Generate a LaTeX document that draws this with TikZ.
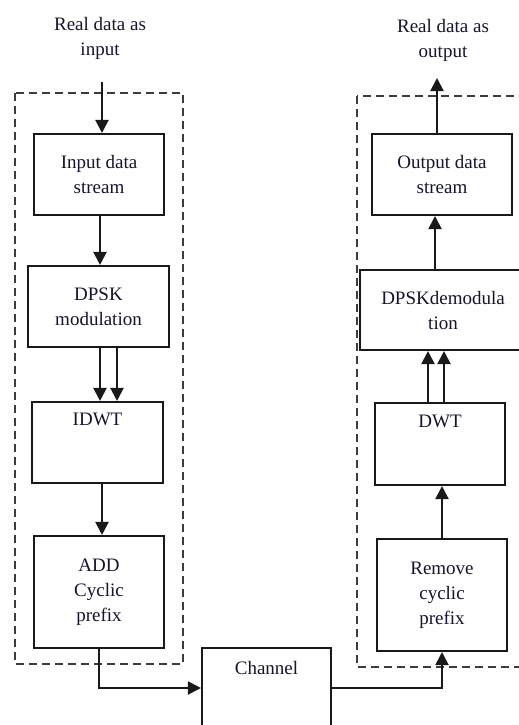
\documentclass[tikz,border=0pt]{standalone}
\usepackage{fontspec}
\setmainfont{Liberation Serif}
\usetikzlibrary{arrows.meta}
\definecolor{txtc}{RGB}{20,20,50}
\definecolor{linec}{RGB}{25,25,25}
\begin{document}
\begin{tikzpicture}[x=1pt,y=-1pt,
  blk/.style={draw=linec,line width=2.1pt,rectangle,inner sep=0pt,align=center,
    font=\fontsize{19}{25}\selectfont,text=txtc},
  lbl/.style={align=center,font=\fontsize{19}{25}\selectfont,text=txtc,inner sep=0pt},
  arr/.style={draw=linec,line width=2.1pt,-{Triangle[length=13pt,width=13pt]}},
  dsh/.style={draw=linec!85,line width=1.8pt,dash pattern=on 8pt off 5pt}]
\useasboundingbox (0,0) rectangle (519,725);
\clip (0,0) rectangle (519,725);
% dashed groups
\draw[dsh] (15,93) rectangle (183,664);
\draw[dsh] (357,96) rectangle (560,667);
% labels
\node[lbl] (inlbl) at (100,38) {Real data as\\input};
\node[lbl] (outlbl) at (443,40) {Real data as\\output};
% transmitter
\node[blk,minimum width=130pt,minimum height=81pt] (inbox) at (99,174.5) {Input data\\stream};
\node[blk,minimum width=141pt,minimum height=81pt] (dpsk) at (98.5,306.5) {DPSK\\modulation};
\node[blk,minimum width=131pt,minimum height=81pt] (idwt) at (97.5,442.5) {};
\node[lbl,anchor=north] (idwtt) at ([yshift=-12pt]idwt.north) {IDWT};
\node[blk,minimum width=130pt,minimum height=112pt] (add) at (99,592) {ADD\\Cyclic\\prefix};
% channel
\node[blk,minimum width=129pt,minimum height=104pt] (chan) at (266.5,700) {};
\node[lbl,anchor=north] (chant) at ([yshift=-14pt]chan.north) {Channel};
% receiver
\node[blk,minimum width=130pt,minimum height=112pt] (remove) at (442,595) {Remove\\cyclic\\prefix};
\node[blk,minimum width=130pt,minimum height=82pt] (dwt) at (440,444) {};
\node[lbl,anchor=north] (dwtt) at ([yshift=-13pt]dwt.north) {DWT};
\node[blk,minimum width=166pt,minimum height=80pt] (demod) at (443,310) {DPSKdemodula\\tion};
\node[blk,minimum width=140pt,minimum height=81pt] (outbox) at (442,174.5) {Output data\\stream};
% connectors
\coordinate (inTop) at (102,82);
\draw[arr] (inTop) -- (inTop |- inbox.north);
\draw[arr] ([xshift=1pt]inbox.south) -- ([xshift=1.5pt]dpsk.north);
\draw[arr] ([xshift=1.5pt]dpsk.south) -- ([xshift=2.5pt]idwt.north);
\draw[arr] ([xshift=18.5pt]dpsk.south) -- ([xshift=19.5pt]idwt.north);
\draw[arr] ([xshift=4.5pt]idwt.south) -- ([xshift=3pt]add.north);
\coordinate (c1) at (99,688);
\draw[arr] (add.south) -- (c1) -- (c1 -| chan.west);
\coordinate (c2) at (442,688);
\draw[arr] (c2 -| chan.east) -- (c2) -- (remove.south);
\draw[arr] (remove.north) -- ([xshift=2pt]dwt.south);
\draw[arr] ([xshift=-12pt]dwt.north) -- ([xshift=-15pt]demod.south);
\draw[arr] ([xshift=4pt]dwt.north) -- ([xshift=1pt]demod.south);
\draw[arr] ([xshift=-8pt]demod.north) -- ([xshift=-7pt]outbox.south);
\coordinate (outTop) at (437,78);
\draw[arr] ([xshift=-5pt]outbox.north) -- (outTop);
\end{tikzpicture}
\end{document}
